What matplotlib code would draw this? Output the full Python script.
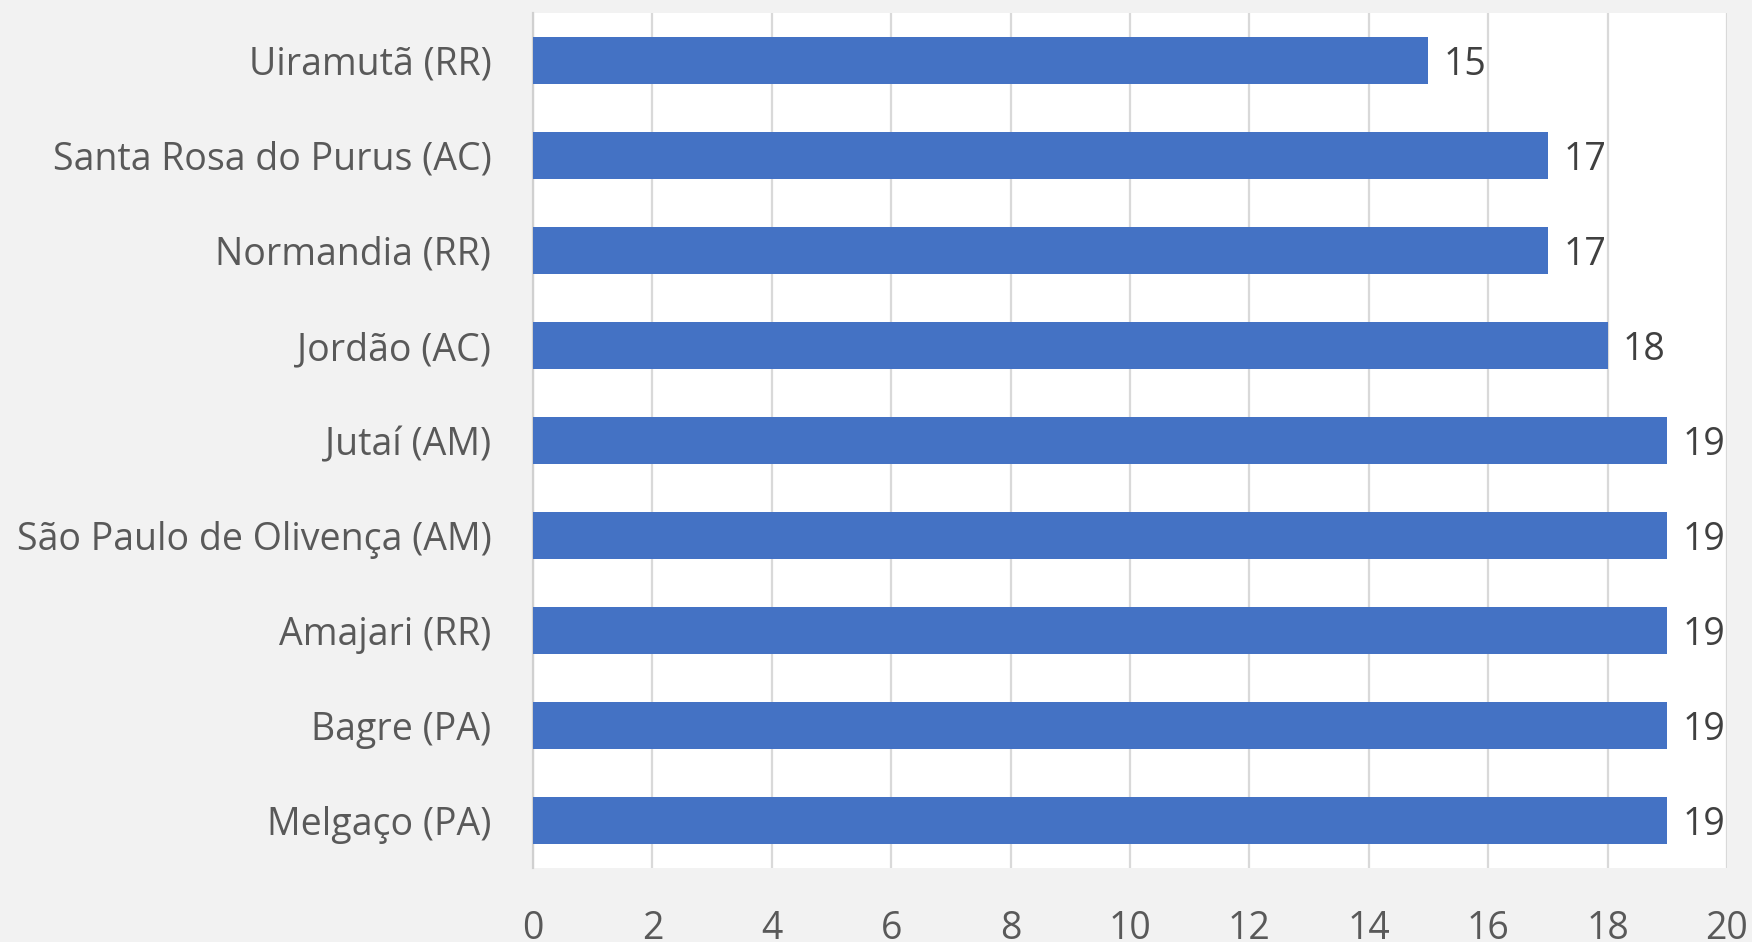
import numpy as np
import matplotlib.pyplot as plt

# municipalities (top to bottom as shown) and values
municipios = ['Uiramutã (RR)', 'Santa Rosa do Purus (AC)', 'Normandia (RR)',
              'Jordão (AC)', 'Jutaí (AM)', 'São Paulo de Olivença (AM)',
              'Amajari (RR)', 'Bagre (PA)', 'Melgaço (PA)']
valores = [15, 17, 17, 18, 19, 19, 19, 19, 19]
xticks = np.arange(0, 21, 2)

plt.rcParams['font.family'] = ['Open Sans', 'DejaVu Sans']

fig = plt.figure(figsize=(17.52, 9.42), dpi=100, facecolor='#f2f2f2')
ax = fig.add_axes([0.3042, 0.0786, 0.9857 - 0.3042, 0.9862 - 0.0786])
ax.set_facecolor('white')

y = np.arange(len(municipios))
bars = ax.barh(y, valores, height=0.5, color='#4472c4', zorder=3)

for b, v in zip(bars, valores):
    ax.annotate(str(v), (b.get_width(), b.get_y() + b.get_height() / 2),
                xytext=(11, -3), textcoords='offset points',
                ha='left', va='center', fontsize=27, color='#404040')

ax.set_ylim(len(municipios) - 0.5, -0.5)
ax.set_yticks(y)
ax.set_yticklabels(municipios)
ax.set_xlim(0, 20)
ax.set_xticks(xticks)

ax.grid(axis='x', color='#d9d9d9', linewidth=1.6, zorder=0)
for s in ['top', 'right', 'bottom']:
    ax.spines[s].set_visible(False)
ax.spines['left'].set_color('#d0d0d0')
ax.spines['left'].set_linewidth(1.6)

ax.tick_params(axis='both', length=0, labelsize=27, colors='#595959')
ax.tick_params(axis='x', pad=30)
ax.tick_params(axis='y', pad=30)

fig.savefig('out.png', dpi=100, facecolor=fig.get_facecolor())
